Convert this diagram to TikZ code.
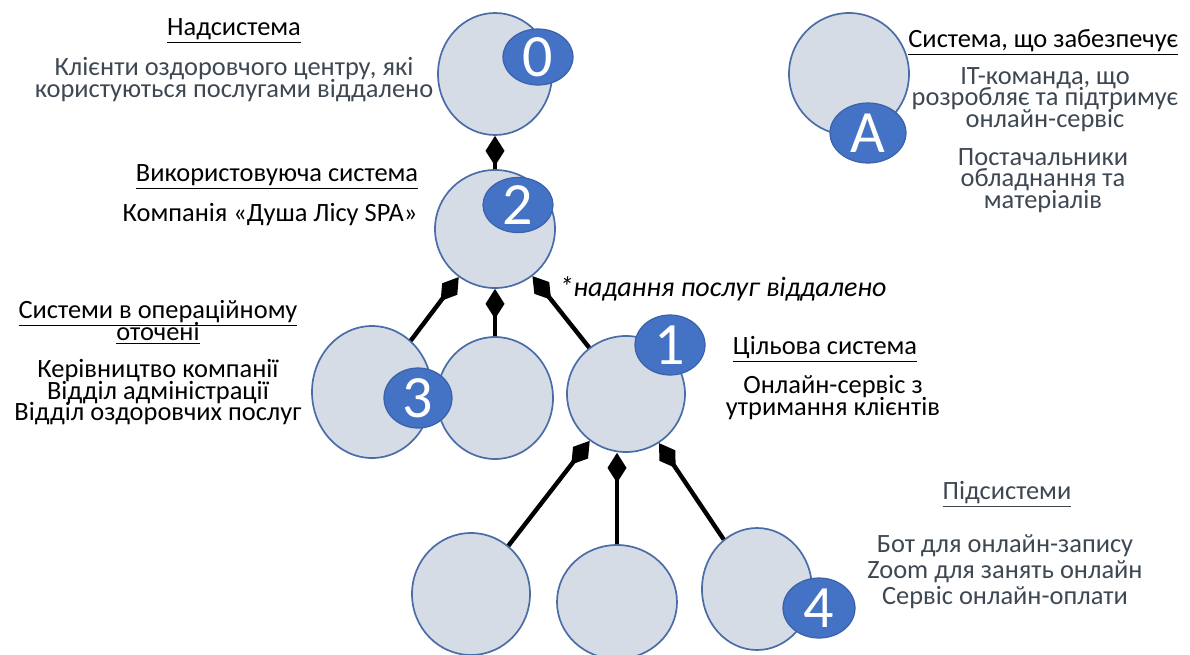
\documentclass[tikz,border=0pt]{standalone}
\usepackage{fontspec}
\setmainfont{Carlito}
\usetikzlibrary{shapes.geometric,arrows.meta}
\definecolor{sysfill}{HTML}{D6DCE5}
\definecolor{sysline}{HTML}{4A6DA8}
\definecolor{badgefill}{HTML}{4472C4}
\definecolor{badgeline}{HTML}{3A62AA}
\definecolor{greytext}{HTML}{3E4853}
% fixed line pitch regardless of glyph heights
\newcommand\labelfont[2]{\fontsize{#1}{#2}\selectfont\lineskiplimit=-100pt\relax\lineskip=0pt\relax}
\begin{document}
\begin{tikzpicture}[x=0.5pt,y=-0.5pt,
  sz/.style 2 args={minimum width=#1pt, minimum height=#2pt},
  sys/.style={ellipse, draw=sysline, line width=0.85pt, fill=sysfill, inner sep=0pt},
  badge/.style={ellipse, fill=badgefill, draw=badgeline, line width=0.6pt,
    text=white, inner sep=0pt, font=\fontsize{30}{30}\selectfont},
  part/.style={line width=2.2pt, {Diamond[length=15pt,width=9.5pt]}-},
  ttl/.style={inner sep=0pt, align=center, font=\labelfont{13.2}{10.8}},
  txt/.style={ttl},
  grey/.style={ttl, text=greytext}
]
\useasboundingbox (0,0) rectangle (1190,654);
\clip (0,0) rectangle (1190,654);
\fill[white] (0,0) rectangle (1190,654);

% systems
\node[sys, sz={57}{61}] (c0) at (495,74) {};
\node[sys, sz={60}{59}] (c2) at (495,229) {};
\node[sys, sz={60}{66}] (c3a) at (372,392) {};
\node[sys, sz={58}{61}] (c3b) at (495,398) {};
\node[sys, sz={59}{58}] (c1) at (626,394) {};
\node[sys, sz={59}{61}] (s1) at (471,594) {};
\node[sys, sz={60}{57}] (s2) at (617,602) {};
\node[sys, sz={55}{61}] (s3) at (757,589) {};
\node[sys, sz={60}{61}] (cA) at (849,74) {};

% composition links, diamond at the whole
\draw[part] (c0.south) -- (c2.north);
\draw[part] (c2) -- (c3a);
\draw[part] (c2.south) -- (c3b.north);
\draw[part] (c2) -- (c1);
\draw[part] (c1) -- (s1);
\draw[part] (c1.south -| s2.north) -- (s2.north);
\draw[part] (c1) -- (s3);

% badges
\node[badge, sz={35}{28}] (b0) at (538,57) {0};
\node[badge, sz={35}{27}] (b2) at (518,205) {2};
\node[badge, sz={34}{30}] (b3) at (418,398) {3};
\node[badge, sz={35}{30}] (b1) at (670,345) {1};
\node[badge, sz={36}{30}] (b4) at (819,608) {4};
\node[badge, sz={38}{30}] (bA) at (868,133) {A};

% labels
\node[ttl, anchor=north] (tSuper) at (234,18) {\underline{Надсистема}};
\node[grey, anchor=north] (dSuper) at (234,57) {Клієнти оздоровчого центру, які\\користуються послугами віддалено};
\node[ttl, anchor=north] (tUse) at (277,164) {\underline{Використовуюча система}};
\node[txt, anchor=north] (dUse) at (270,203) {Компанія «Душа Лісу SPA»};
\node[ttl, anchor=north] (tEnv) at (158,300) {\underline{Системи в операційному}\\\underline{оточені}};
\node[txt, anchor=north] (dEnv) at (158,359) {Керівництво компанії\\Відділ адміністрації\\Відділ оздоровчих послуг};
\node[txt, anchor=north, font=\labelfont{14}{10.8}\itshape] (note) at (723,276) {*надання послуг віддалено};
\node[ttl, anchor=north] (tTarget) at (825,336) {\underline{Цільова система}};
\node[txt, anchor=north] (dTarget) at (833,375) {Онлайн-сервіс з\\утримання клієнтів};
\node[ttl, anchor=north west] (tEnable) at (908,29) {\underline{Система, що забезпечує}};
\node[grey, anchor=north] (dEnable) at (1045,67) {IT-команда, що\\розробляє та підтримує\\онлайн-сервіс};
\node[grey, anchor=north] (dSupply) at (1043,148) {Постачальники\\обладнання та\\матеріалів};
\node[grey, anchor=north] (tSub) at (1007,481) {\underline{Підсистеми}};
\node[grey, anchor=north, font=\labelfont{13.2}{13}] (dSub) at (1005,534) {Бот для онлайн-запису\\Zoom для занять онлайн\\Сервіс онлайн-оплати};
\end{tikzpicture}
\end{document}
